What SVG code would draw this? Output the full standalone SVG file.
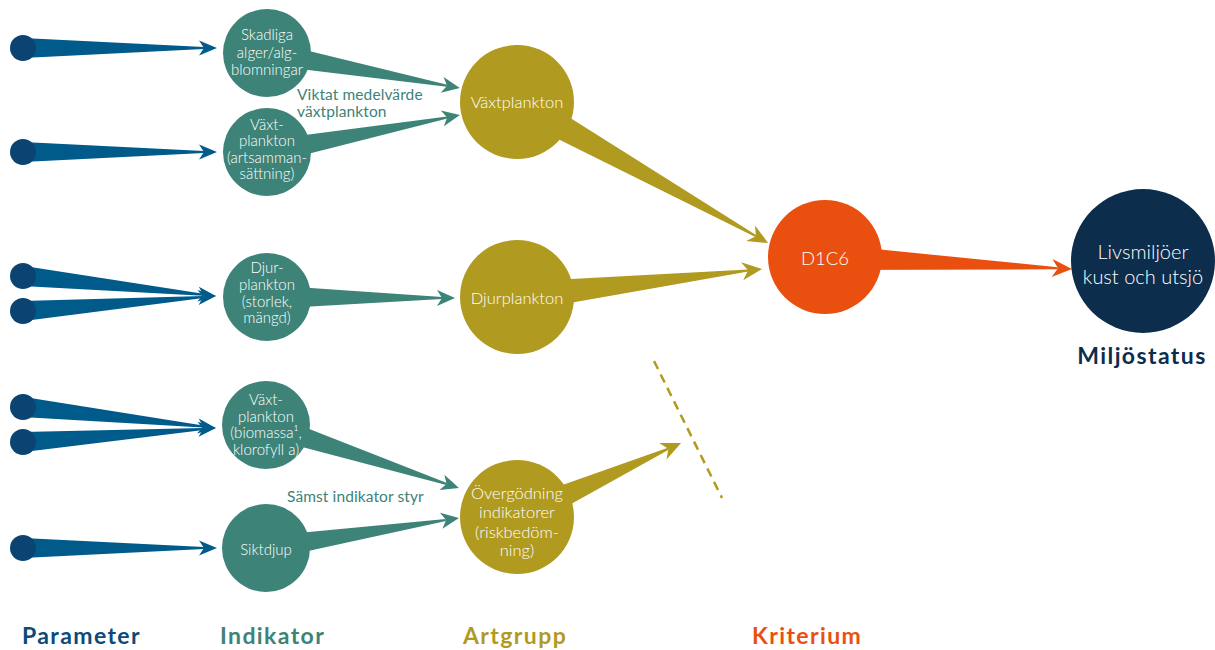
<svg xmlns="http://www.w3.org/2000/svg" width="1215" height="650" viewBox="0 0 1215 650">
<style>
.pw{fill:#005b8a}
.pd{fill:#0b4472}
.tw{fill:#3d8378}
.ow{fill:#b09a1f}
.rw{fill:#e9500f}
.ind{fill:#3d8378}
.art{fill:#b09a1f}
.kri{fill:#e9500f}
.mil{fill:#0c2d4c}
.t{font-family:Lato,"Open Sans","Liberation Sans",sans-serif;font-weight:300;fill:#ffffff;text-anchor:middle;font-size:15px}
.ta{font-size:16.5px}
.lbl{font-family:Lato,"Open Sans","Liberation Sans",sans-serif;fill:#3d8378;font-size:15.5px;letter-spacing:0.1px}
.h{font-family:Lato,"Liberation Sans",sans-serif;font-weight:bold;font-size:23px;letter-spacing:1.4px}
</style>
<rect width="1215" height="650" fill="#ffffff"/>
<g id="connectors">
  <g class="pw">
    <g transform="translate(23,48)"><polygon points="0,-10 181,-1 181,1 0,10"/><polygon points="194,0 176,-7.5 181,0 176,7.5"/></g>
    <g transform="translate(23,152)"><polygon points="0,-10 181,-1 181,1 0,10"/><polygon points="194,0 176,-7.5 181,0 176,7.5"/></g>
    <g transform="translate(23,276) rotate(5.92)"><polygon points="0,-10 181,-1 181,1 0,10"/><polygon points="194,0 176,-7.5 181,0 176,7.5"/></g>
    <g transform="translate(23,311) rotate(-4.44)"><polygon points="0,-10 181,-1 181,1 0,10"/><polygon points="193.6,0 175.6,-7.5 180.6,0 175.6,7.5"/></g>
    <g transform="translate(23,407) rotate(6.21)"><polygon points="0,-10 181,-1 181,1 0,10"/><polygon points="194,0 176,-7.5 181,0 176,7.5"/></g>
    <g transform="translate(23,442) rotate(-4.15)"><polygon points="0,-10 181,-1 181,1 0,10"/><polygon points="193.5,0 175.5,-7.5 180.5,0 175.5,7.5"/></g>
    <g transform="translate(23,548)"><polygon points="0,-10 181,-1 181,1 0,10"/><polygon points="194,0 176,-7.5 181,0 176,7.5"/></g>
  </g>
  <g class="tw">
    <g transform="translate(267,53) rotate(10.28)"><polygon points="0,-12 183,-1 183,1 0,12"/><polygon points="196,0 178,-8 183,0 178,8"/></g>
    <g transform="translate(267,152) rotate(-10.85)"><polygon points="0,-12 183.5,-1 183.5,1 0,12"/><polygon points="196.5,0 178.5,-8 183.5,0 178.5,8"/></g>
    <g transform="translate(267,297) rotate(0.3)"><polygon points="0,-12 175,-1 175,1 0,12"/><polygon points="188,0 170,-8 175,0 170,8"/></g>
    <g transform="translate(266,425) rotate(18.08)"><polygon points="0,-12 190,-1 190,1 0,12"/><polygon points="203,0 185,-8 190,0 185,8"/></g>
    <g transform="translate(266,548) rotate(-8.84)"><polygon points="0,-12 182,-1 182,1 0,12"/><polygon points="195.3,0 177.3,-8 182.3,0 177.3,8"/></g>
  </g>
  <g class="ow">
    <g transform="translate(517,102) rotate(29.33)"><polygon points="0,-15 274,-1 274,1 0,15"/><polygon points="288,0 268,-9 274,0 268,9"/></g>
    <g transform="translate(517,297) rotate(-6.52)"><polygon points="0,-15 232.6,-1 232.6,1 0,15"/><polygon points="246.6,0 226.6,-9 232.6,0 226.6,9"/></g>
    <g transform="translate(517,517) rotate(-24.29)"><polygon points="0,-15 166,-1 166,1 0,15"/><polygon points="180,0 160,-9 166,0 160,9"/></g>
    <line x1="654" y1="361" x2="722" y2="498" stroke="#b09a1f" stroke-width="2.5" stroke-dasharray="9 6"/>
  </g>
  <g class="rw">
    <g transform="translate(825,257) rotate(2.78)"><polygon points="0,-13 233,-1 233,1 0,13"/><polygon points="247.3,0 227.3,-9 233.3,0 227.3,9"/></g>
  </g>
</g>
<g id="parameters">
  <circle class="pd" cx="23" cy="48" r="13"/>
  <circle class="pd" cx="23" cy="152" r="13"/>
  <circle class="pd" cx="23" cy="276" r="13"/>
  <circle class="pd" cx="23" cy="311" r="13"/>
  <circle class="pd" cx="23" cy="407" r="13"/>
  <circle class="pd" cx="23" cy="442" r="13"/>
  <circle class="pd" cx="23" cy="548" r="13"/>
</g>
<g id="ind-skadliga">
  <circle class="ind" cx="267" cy="53" r="44"/>
  <text class="t" x="267" y="40">Skadliga</text>
  <text class="t" x="267" y="58">alger/alg-</text>
  <text class="t" x="267" y="75">blomningar</text>
</g>
<g id="ind-vaxt-arts">
  <circle class="ind" cx="267" cy="152" r="44"/>
  <text class="t" x="267" y="130">Växt-</text>
  <text class="t" x="267" y="146">plankton</text>
  <text class="t" x="267" y="163">(artsamman-</text>
  <text class="t" x="267" y="179">sättning)</text>
</g>
<g id="ind-djur">
  <circle class="ind" cx="267" cy="297" r="44"/>
  <text class="t" x="267" y="273">Djur-</text>
  <text class="t" x="267" y="290">plankton</text>
  <text class="t" x="267" y="307">(storlek,</text>
  <text class="t" x="267" y="323">mängd)</text>
</g>
<g id="ind-vaxt-biomassa">
  <circle class="ind" cx="266" cy="425" r="44"/>
  <text class="t" x="266" y="405">Växt-</text>
  <text class="t" x="266" y="422">plankton</text>
  <text class="t" x="266" y="438">(biomassa¹,</text>
  <text class="t" x="266" y="455">klorofyll a)</text>
</g>
<g id="ind-siktdjup">
  <circle class="ind" cx="266" cy="548" r="44"/>
  <text class="t" x="266" y="555">Siktdjup</text>
</g>
<g id="art-vaxtplankton">
  <circle class="art" cx="517" cy="102" r="57"/>
  <text class="t ta" x="517" y="108">Växtplankton</text>
</g>
<g id="art-djurplankton">
  <circle class="art" cx="517" cy="297" r="57"/>
  <text class="t ta" x="517" y="304">Djurplankton</text>
</g>
<g id="art-overgodning">
  <circle class="art" cx="517" cy="517" r="57"/>
  <text class="t ta" x="517" y="499">Övergödning</text>
  <text class="t ta" x="517" y="518">indikatorer</text>
  <text class="t ta" x="517" y="538">(riskbedöm-</text>
  <text class="t ta" x="517" y="556">ning)</text>
</g>
<g id="kri-d1c6">
  <circle class="kri" cx="825" cy="257" r="57"/>
  <text class="t" x="825" y="265" style="font-size:18.5px">D1C6</text>
</g>
<g id="mil-livsmiljoer">
  <circle class="mil" cx="1143" cy="261" r="72"/>
  <text class="t" x="1143" y="259" style="font-size:20px">Livsmiljöer</text>
  <text class="t" x="1143" y="284" style="font-size:20px">kust och utsjö</text>
</g>
<g id="labels">
  <text class="lbl" x="297" y="100">Viktat medelvärde</text>
  <text class="lbl" x="297" y="117">växtplankton</text>
  <text class="lbl" x="287" y="502">Sämst indikator styr</text>
  <text class="h" x="1142" y="364" text-anchor="middle" fill="#0c2d4c">Miljöstatus</text>
  <text class="h" x="22" y="644" fill="#0b4a79">Parameter</text>
  <text class="h" x="220" y="644" fill="#3d8378">Indikator</text>
  <text class="h" x="463" y="644" fill="#b09a1f">Artgrupp</text>
  <text class="h" x="752" y="644" fill="#e9500f">Kriterium</text>
</g>
</svg>
